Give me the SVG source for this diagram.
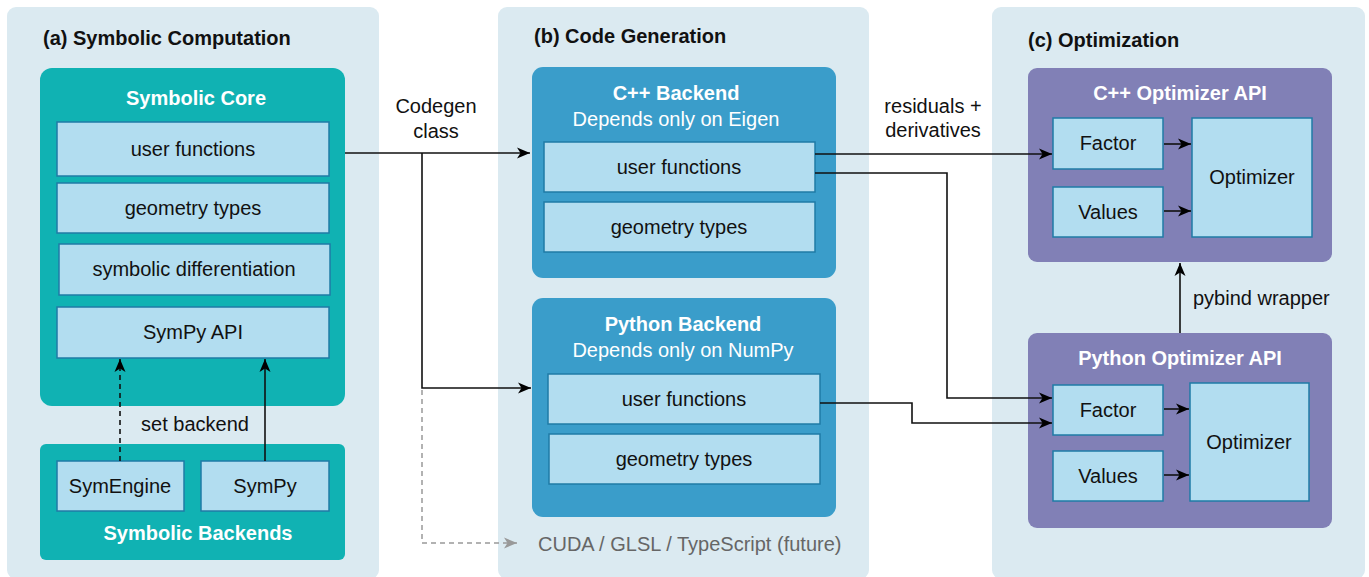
<svg xmlns="http://www.w3.org/2000/svg" width="1369" height="577" viewBox="0 0 1369 577">
<defs>
<marker id="ah" markerUnits="userSpaceOnUse" markerWidth="14" markerHeight="12" refX="13" refY="6" orient="auto">
<path d="M0,0.5 L13,6 L0,11.5 L3.5,6 z" fill="#000"/>
</marker>
<marker id="ahg" markerUnits="userSpaceOnUse" markerWidth="14" markerHeight="12" refX="13" refY="6" orient="auto">
<path d="M0,0.5 L13,6 L0,11.5 L3.5,6 z" fill="#999"/>
</marker>
<style>
text{font-family:"Liberation Sans",Arial,sans-serif;font-size:20px;fill:#111}
.panel{fill:#dbeaf1}
.teal{fill:#10b2b3}
.blue{fill:#3a9dca}
.purple{fill:#8180b6}
.inner{fill:#b2ddf0;stroke:#1f7ba6;stroke-width:1.5}
.ttl{font-weight:bold;fill:#111}
.wt{font-weight:bold;fill:#fff;text-anchor:middle}
.wn{fill:#fff;text-anchor:middle}
.c{text-anchor:middle}
.ln{fill:none;stroke:#111;stroke-width:1.6}
</style>
</defs>
<rect width="1369" height="577" fill="#fff"/>

<g id="panel-a">
<rect class="panel" x="7" y="7" width="372" height="572" rx="9"/>
<text class="ttl" x="43" y="45">(a) Symbolic Computation</text>
</g>
<g id="panel-b">
<rect class="panel" x="498" y="7" width="371" height="572" rx="9"/>
<text class="ttl" x="534" y="43">(b) Code Generation</text>
</g>
<g id="panel-c">
<rect class="panel" x="992" y="7" width="373" height="572" rx="9"/>
<text class="ttl" x="1028" y="47">(c) Optimization</text>
</g>

<g id="symbolic-core">
<rect class="teal" x="40" y="68" width="305" height="338" rx="12"/>
<text class="wt" x="196" y="105">Symbolic Core</text>
<rect class="inner" x="57" y="122" width="272" height="54"/>
<text class="c" x="193" y="156">user functions</text>
<rect class="inner" x="57" y="183" width="272" height="50"/>
<text class="c" x="193" y="215">geometry types</text>
<rect class="inner" x="59" y="244" width="271" height="51"/>
<text class="c" x="194" y="276">symbolic differentiation</text>
<rect class="inner" x="57" y="307" width="272" height="51"/>
<text class="c" x="193" y="339">SymPy API</text>
</g>

<g id="symbolic-backends">
<rect class="teal" x="40" y="444" width="305" height="116" rx="6"/>
<rect class="inner" x="57" y="461" width="127" height="50"/>
<text class="c" x="120" y="493">SymEngine</text>
<rect class="inner" x="201" y="461" width="128" height="50"/>
<text class="c" x="265" y="493">SymPy</text>
<text class="wt" x="198" y="540">Symbolic Backends</text>
</g>

<g id="cpp-backend">
<rect class="blue" x="532" y="67" width="304" height="211" rx="11"/>
<text class="wt" x="676" y="100">C++ Backend</text>
<text class="wn" x="676" y="126">Depends only on Eigen</text>
<rect class="inner" x="544" y="142" width="271" height="50"/>
<text class="c" x="679" y="174">user functions</text>
<rect class="inner" x="544" y="202" width="271" height="50"/>
<text class="c" x="679" y="234">geometry types</text>
</g>

<g id="python-backend">
<rect class="blue" x="532" y="298" width="304" height="219" rx="11"/>
<text class="wt" x="683" y="331">Python Backend</text>
<text class="wn" x="683" y="357">Depends only on NumPy</text>
<rect class="inner" x="548" y="374" width="272" height="50"/>
<text class="c" x="684" y="406">user functions</text>
<rect class="inner" x="549" y="434" width="271" height="50"/>
<text class="c" x="684" y="466">geometry types</text>
</g>

<g id="cuda-future">
<text x="538" y="551" style="fill:#666">CUDA / GLSL / TypeScript (future)</text>
</g>

<g id="cpp-optimizer-api">
<rect class="purple" x="1028" y="68" width="304" height="194" rx="9"/>
<text class="wt" x="1180" y="100">C++ Optimizer API</text>
<rect class="inner" x="1053" y="118" width="110" height="51"/>
<text class="c" x="1108" y="150">Factor</text>
<rect class="inner" x="1053" y="187" width="110" height="50"/>
<text class="c" x="1108" y="219">Values</text>
<rect class="inner" x="1192" y="118" width="120" height="119"/>
<text class="c" x="1252" y="184">Optimizer</text>
</g>

<g id="python-optimizer-api">
<rect class="purple" x="1028" y="333" width="304" height="195" rx="9"/>
<text class="wt" x="1180" y="365">Python Optimizer API</text>
<rect class="inner" x="1053" y="385" width="110" height="50"/>
<text class="c" x="1108" y="417">Factor</text>
<rect class="inner" x="1053" y="451" width="110" height="50"/>
<text class="c" x="1108" y="483">Values</text>
<rect class="inner" x="1190" y="383" width="119" height="118"/>
<text class="c" x="1249" y="449">Optimizer</text>
</g>

<g id="connectors">
<path class="ln" d="M345,153 H530" marker-end="url(#ah)"/>
<path class="ln" d="M422,153 V388 H531" marker-end="url(#ah)"/>
<path d="M422,390 V543 H517" fill="none" stroke="#999" stroke-width="1.5" stroke-dasharray="5 4" marker-end="url(#ahg)"/>
<path class="ln" d="M120,461 V359" stroke-dasharray="5 4" marker-end="url(#ah)"/>
<path class="ln" d="M265,461 V359" marker-end="url(#ah)"/>
<path class="ln" d="M815,154 H1052" marker-end="url(#ah)"/>
<path class="ln" d="M815,173 H947 V398 H1052" marker-end="url(#ah)"/>
<path class="ln" d="M820,403 H912 V423 H1052" marker-end="url(#ah)"/>
<path class="ln" d="M1164,144 H1191" marker-end="url(#ah)"/>
<path class="ln" d="M1164,211 H1191" marker-end="url(#ah)"/>
<path class="ln" d="M1164,409 H1189" marker-end="url(#ah)"/>
<path class="ln" d="M1164,475 H1189" marker-end="url(#ah)"/>
<path class="ln" d="M1180,333 V263" marker-end="url(#ah)"/>
<text class="c" x="436" y="113">Codegen</text>
<text class="c" x="436" y="138">class</text>
<text class="c" x="195" y="431">set backend</text>
<text class="c" x="933" y="113">residuals +</text>
<text class="c" x="933" y="137">derivatives</text>
<text x="1193" y="305">pybind wrapper</text>
</g>
</svg>
